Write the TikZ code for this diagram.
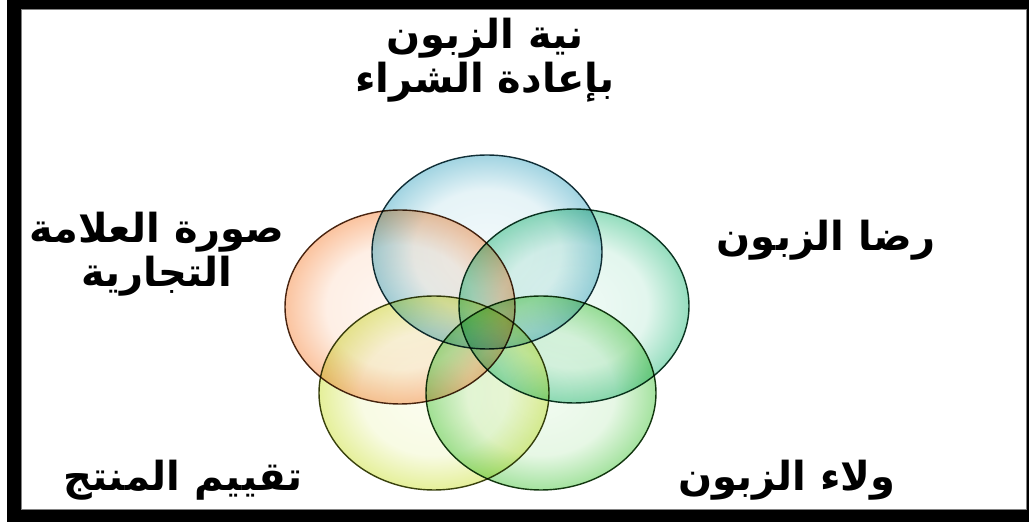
\documentclass[tikz,border=0pt]{standalone}
\usepackage{fontspec}
\usepackage{tikz}
\usetikzlibrary{shapes.geometric}
\newfontfamily\arabicfont[Script=Arabic]{DejaVu Sans}
\TeXXeTstate=1
\definecolor{vnblue}{RGB}{75,172,198}
\definecolor{vnorange}{RGB}{247,140,70}
\definecolor{vnteal}{RGB}{50,190,130}
\definecolor{vngreen}{RGB}{80,200,70}
\definecolor{vnyellow}{RGB}{205,225,60}
\definecolor{vnframe}{RGB}{130,130,130}
% glassy rim: pale middle, colour building up towards the edge
\newcommand{\vnrim}[2]{%
  \pgfdeclareradialshading{#1}{\pgfpoint{0bp}{0bp}}{%
    color(0bp)=(#2!7!white); color(16bp)=(#2!14!white);
    color(25bp)=(#2!52!white); color(50bp)=(#2!52!white)}}
\vnrim{rimblue}{vnblue}
\vnrim{rimorange}{vnorange}
\vnrim{rimteal}{vnteal}
\vnrim{rimgreen}{vngreen}
\vnrim{rimyellow}{vnyellow}
\tikzset{
  ring/.style={ellipse, shade, minimum width=230pt, minimum height=194pt,
               inner sep=0pt, line width=1.4pt, blend mode=multiply},
  lbl/.style={font=\arabicfont\bfseries\fontsize{40}{44}\selectfont,
              align=center, text=black, inner sep=0pt},
}

\begin{document}
\begin{tikzpicture}[x=1pt, y=1pt]
\useasboundingbox (0,0) rectangle (1029,522);
% black frame with a thin grey inner rule
\fill[black] (7,0) rectangle (1029,522);
\draw[fill=white, draw=vnframe, line width=1pt] (21,12) rectangle (1026,512);

% five overlapping rings
\node[ring, shading=rimblue,   draw=vnblue!30!black]   (intent)  at (487,270) {};
\node[ring, shading=rimorange, draw=vnorange!30!black] (brand)   at (400,215) {};
\node[ring, shading=rimteal,   draw=vnteal!30!black]   (satisf)  at (574,216) {};
\node[ring, shading=rimyellow, draw=vnyellow!30!black] (product) at (434,129) {};
\node[ring, shading=rimgreen,  draw=vngreen!30!black]  (loyalty) at (541,129) {};

% labels round the rings
\node[lbl] (intentlbl) at (485,462) {\beginR نية الزبون\endR\\\beginR بإعادة الشراء\endR};
\node[lbl] (brandlbl) at (157,268) {\beginR صورة العلامة\endR\\\beginR التجارية\endR};
\node[lbl] (satisflbl) at (826,282) {\beginR رضا الزبون\endR};
\node[lbl] (productlbl) at (183,42) {\beginR تقييم المنتج\endR};
\node[lbl] (loyaltylbl) at (787,42) {\beginR ولاء الزبون\endR};
\end{tikzpicture}
\end{document}
